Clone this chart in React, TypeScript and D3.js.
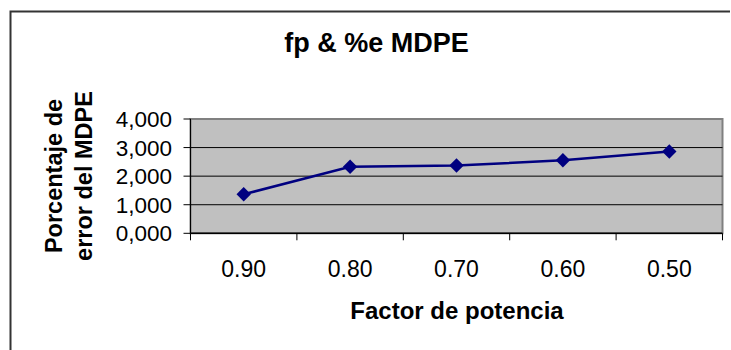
import React from "react";
import * as d3 from "d3";

const categories = ["0.90", "0.80", "0.70", "0.60", "0.50"];
const values = [1.365, 2.33, 2.37, 2.555, 2.86];
const yTicks = [0, 1, 2, 3, 4];
const title = "fp & %e MDPE";
const xTitle = "Factor de potencia";
const yTitleLines = ["Porcentaje de", "error del MDPE"];

const W = 731;
const H = 350;
const plot = { left: 190.5, right: 722.5, top: 119, bottom: 233.3 };

const locale = d3.formatLocale({ decimal: ",", thousands: ".", grouping: [3], currency: ["", ""] });
const fmt = locale.format(".3f");

export default function App() {
  const x = d3.scaleBand<string>().domain(categories).range([plot.left, plot.right]).padding(0);
  const y = d3.scaleLinear().domain([0, 4]).range([plot.bottom, plot.top]);
  const cx = (c: string) => (x(c) as number) + x.bandwidth() / 2;
  const line = d3
    .line<number>()
    .x((_, i) => cx(categories[i]))
    .y((v) => y(v));
  const diamond = d3.symbol(d3.symbolSquare, 104)();
  const font = "Arial, 'Liberation Sans', sans-serif";
  const boundaries = [...categories.map((c) => x(c) as number), plot.right];

  return (
    <svg
      width={W}
      height={H}
      style={{ position: "absolute", left: 0, top: 0, background: "#fff" }}
      fontFamily={font}
    >
      {/* outer frame */}
      <path d={`M10.5,${H} V11.5 H730`} fill="none" stroke="#333" strokeWidth={2} />

      <text x={376.5} y={52} textAnchor="middle" fontSize={27} fontWeight="bold" fill="#000">
        {title}
      </text>

      {/* plot area */}
      <rect
        x={plot.left}
        y={plot.top}
        width={plot.right - plot.left}
        height={plot.bottom - plot.top}
        fill="#c0c0c0"
        stroke="#808080"
        strokeWidth={2}
      />
      {yTicks
        .filter((t) => t > 0 && t < 4)
        .map((t) => (
          <line key={t} x1={plot.left} x2={plot.right} y1={y(t)} y2={y(t)} stroke="#000" strokeWidth={1} />
        ))}

      {/* y axis */}
      <line x1={plot.left} x2={plot.left} y1={plot.top} y2={plot.bottom} stroke="#000" strokeWidth={1} />
      {yTicks.map((t) => (
        <g key={t}>
          <line x1={plot.left - 7} x2={plot.left} y1={y(t)} y2={y(t)} stroke="#000" strokeWidth={1} />
          <text x={172} y={y(t) + 8} textAnchor="end" fontSize={22.5} fill="#000">
            {fmt(t)}
          </text>
        </g>
      ))}

      {/* x axis */}
      <line x1={plot.left} x2={plot.right} y1={plot.bottom} y2={plot.bottom} stroke="#000" strokeWidth={1.5} />
      {boundaries.map((b, i) => (
        <line key={i} x1={b} x2={b} y1={plot.bottom} y2={plot.bottom + 7} stroke="#000" strokeWidth={1} />
      ))}
      {categories.map((c) => (
        <text key={c} x={cx(c)} y={276.5} textAnchor="middle" fontSize={23} fill="#000">
          {c}
        </text>
      ))}

      <text x={457} y={319} textAnchor="middle" fontSize={24} fontWeight="bold" fill="#000">
        {xTitle}
      </text>

      {yTitleLines.map((t, i) => (
        <text
          key={t}
          transform={`translate(${62 + i * 30},176) rotate(-90)`}
          textAnchor="middle"
          fontSize={23.5}
          fontWeight="bold"
          fill="#000"
        >
          {t}
        </text>
      ))}

      {/* series */}
      <path d={line(values) as string} fill="none" stroke="#000080" strokeWidth={2.5} />
      {values.map((v, i) => (
        <path
          key={i}
          d={diamond as string}
          transform={`translate(${cx(categories[i])},${y(v)}) rotate(45)`}
          fill="#000080"
        />
      ))}
    </svg>
  );
}
